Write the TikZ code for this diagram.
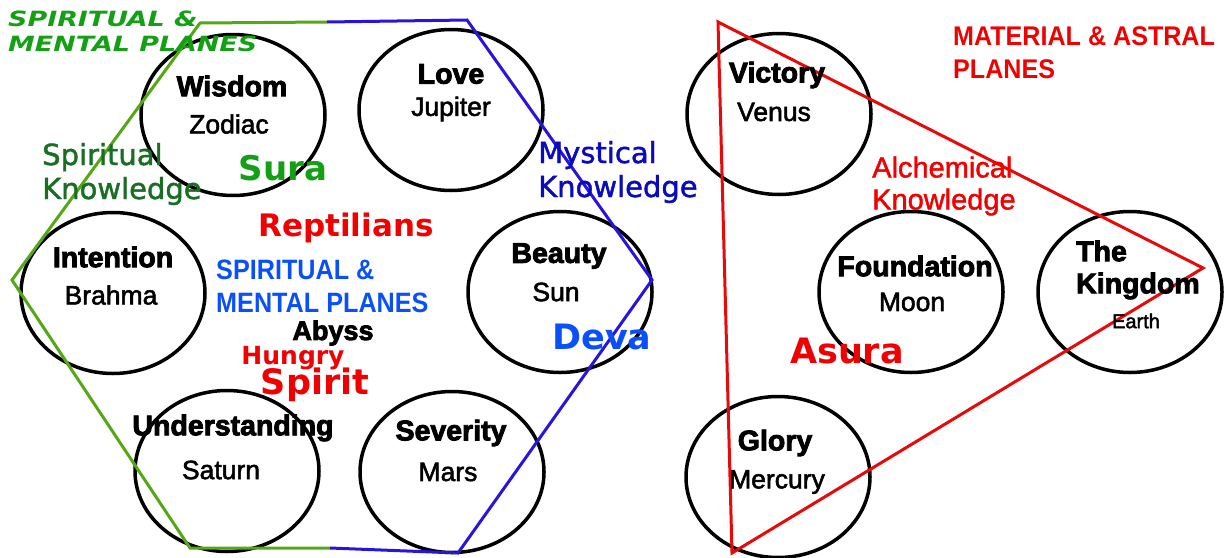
\documentclass[tikz,border=0pt]{standalone}
\usepackage{fontspec}
\setmainfont{Liberation Sans}
\newfontfamily\heavysans[FakeBold=3]{Liberation Sans Bold}
\newfontfamily\planetsans[FakeBold=2]{Liberation Sans}
\newfontfamily\narrowsans[FakeStretch=0.9]{Liberation Sans}
\newfontfamily\redplanes[FakeStretch=0.93]{Liberation Sans}
\newfontfamily\alchemsans[FakeBold=1.5]{Liberation Sans}
\newfontfamily\dejavu{DejaVu Sans}
\newfontfamily\lorefont[FakeBold=1.5]{DejaVu Sans}
\newfontfamily\widedejavu[FakeStretch=1.28]{DejaVu Sans}
\usetikzlibrary{shapes.geometric, calc}

\definecolor{hexgreen}{RGB}{84,168,20}
\definecolor{hexblue}{RGB}{40,20,220}
\definecolor{trired}{RGB}{230,10,10}
\definecolor{labelred}{RGB}{240,0,0}
\definecolor{darkgreen}{RGB}{25,110,35}
\definecolor{suragreen}{RGB}{20,160,20}
\definecolor{devablue}{RGB}{10,80,250}
\definecolor{navyblue}{RGB}{10,10,190}

\begin{document}
\begin{tikzpicture}[
    x=1pt, y=-1pt,
    sephira/.style={ellipse, draw=black, line width=3.5pt,
                    minimum width=184pt, minimum height=161pt, inner sep=0pt},
    virtue/.style ={font=\heavysans\fontsize{28.5}{32}\selectfont, inner sep=0pt},
    planet/.style ={font=\planetsans\fontsize{26.5}{30}\selectfont, inner sep=0pt},
    lore/.style   ={font=\lorefont\fontsize{29}{34}\selectfont, align=left,
                    anchor=west, inner sep=0pt},
    being/.style  ={font=\dejavu\bfseries\fontsize{34}{36}\selectfont, inner sep=0pt},
    planes/.style ={font=\narrowsans\bfseries\fontsize{28}{33}\selectfont, align=left,
                    anchor=west, inner sep=0pt},
    border/.style ={line width=3pt, line join=miter},
]
\useasboundingbox (0,0) rectangle (1228,557);

% the ten spheres
\node[sephira] (wisdom)     at (233,115) {};
\node[sephira] (love)       at (451,110) {};
\node[sephira] (intention)  at (113,293) {};
\node[sephira] (beauty)     at (560,292) {};
\node[sephira] (understand) at (227,471) {};
\node[sephira] (severity)   at (452,472) {};
\node[sephira] (victory)    at (779,114) {};
\node[sephira] (foundation) at (911,292) {};
\node[sephira] (kingdom)    at (1130,292) {};
\node[sephira] (glory)      at (778,477) {};

% hexagon of the upper planes
\coordinate (h1) at (200,23);
\coordinate (h2) at (327,22);
\coordinate (h3) at (467,20);
\coordinate (h4) at (652,280);
\coordinate (h5) at (458,553);
\coordinate (h6) at (330,548);
\coordinate (h7) at (190,548);
\coordinate (h8) at (12,280);
\draw[border, hexgreen] (h2) -- (h1) -- (h8) -- (h7) -- (h6);
\draw[border, hexblue]  (h2) -- (h3) -- (h4) -- (h5) -- (h6);

% triangle of the lower planes
\coordinate (t1) at (718,22);
\coordinate (t2) at (1203,268);
\coordinate (t3) at (732,553);
\draw[border, trired] (t1) -- (t2) -- (t3) -- cycle;

% names and planets
\node[virtue] (wisdomT)     at (232,86)  {Wisdom};
\node[planet] (wisdomP)     at (229,124) {Zodiac};
\node[virtue] (loveT)       at (451,74)  {Love};
\node[planet] (loveP)       at (451,109) {Jupiter};
\node[virtue] (intentionT)  at (113,257) {Intention};
\node[planet] (intentionP)  at (111,295) {Brahma};
\node[virtue] (beautyT)     at (559,256) {Beauty};
\node[planet] (beautyP)     at (556,292) {Sun};
\node[virtue] (understandT) at (233,428) {Understanding};
\node[planet] (understandP) at (221,470) {Saturn};
\node[virtue] (severityT)   at (451,433) {Severity};
\node[planet] (severityP)   at (448,472) {Mars};
\node[virtue] (victoryT)    at (777,75)  {Victory};
\node[planet] (victoryP)    at (774,112) {Venus};
\node[virtue] (foundationT) at (915,266) {Foundation};
\node[planet] (foundationP) at (912,302) {Moon};
\node[virtue, anchor=west] (kingdomA) at (1076,251) {The};
\node[virtue, anchor=west] (kingdomB) at (1076,286) {Kingdom};
\node[planet, font=\planetsans\fontsize{20}{22}\selectfont] (kingdomP) at (1136,321) {Earth};
\node[virtue] (gloryT)      at (775,443) {Glory};
\node[planet] (gloryP)      at (777,482) {Mercury};

% plane and knowledge labels
\node[font=\widedejavu\bfseries\itshape\fontsize{21}{25}\selectfont, text=suragreen,
      align=left, anchor=north west, inner sep=0pt] (upperTitle) at (8,11)
      {SPIRITUAL \&\\MENTAL PLANES};
\node[planes, text=labelred, font=\redplanes\bfseries\fontsize{27}{33}\selectfont]
      (lowerTitle) at (953,53)  {MATERIAL \& ASTRAL\\PLANES};
\node[planes, text=devablue]  (abyssTitle) at (216,286) {SPIRITUAL \&\\MENTAL PLANES};
\node[lore, text=darkgreen]   (spiritK)    at (42,174)  {Spiritual\\Knowledge};
\node[lore, text=navyblue]    (mysticK)    at (538,172) {Mystical\\Knowledge};
\node[lore, font=\alchemsans\fontsize{29}{32}\selectfont, text=labelred]
      (alchemK) at (872,186) {Alchemical\\Knowledge};

% beings
\node[being, text=suragreen] (sura)    at (283,168) {Sura};
\node[being, text=labelred, font=\dejavu\bfseries\fontsize{31}{34}\selectfont]
      (reptile) at (346,228) {Reptilians};
\node[virtue, font=\heavysans\fontsize{27}{30}\selectfont] (abyss) at (333,333) {Abyss};
\node[being, text=labelred, font=\dejavu\bfseries\fontsize{25}{26}\selectfont]
      (hungry)  at (293,358) {Hungry};
\node[being, text=labelred, font=\dejavu\bfseries\fontsize{35}{38}\selectfont]
      (spirit)  at (315,385) {Spirit};
\node[being, text=devablue, font=\dejavu\bfseries\fontsize{35}{38}\selectfont]
      (deva)    at (602,337) {Deva};
\node[being, text=labelred, font=\dejavu\bfseries\fontsize{35}{38}\selectfont]
      (asura)   at (847,351) {Asura};
\end{tikzpicture}
\end{document}
